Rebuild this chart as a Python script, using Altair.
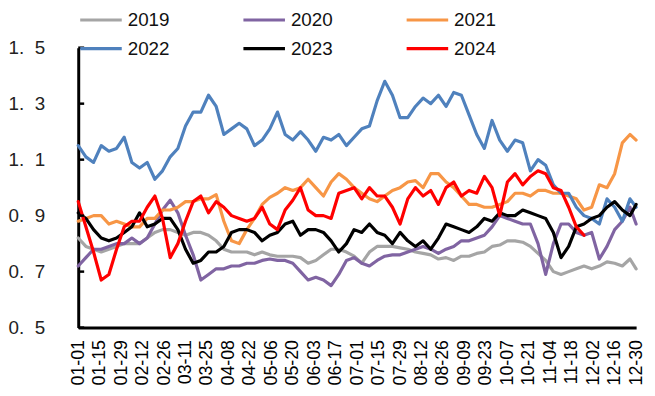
import altair as alt
import pandas as pd

days = [0, 5, 10, 15, 20, 25, 30, 35, 40, 45, 50, 55, 60, 65, 70, 75, 80, 85, 90, 95,
        100, 105, 110, 115, 120, 125, 130, 135, 140, 145, 150, 155, 160, 165, 170, 175,
        180, 185, 190, 195, 200, 205, 210, 215, 220, 225, 230, 235, 240, 245, 250, 255,
        260, 265, 270, 275, 280, 285, 290, 295, 300, 305, 310, 315, 320, 325, 330, 335,
        340, 345, 350, 355, 360, 364]

tick_days = [0, 14, 28, 42, 56, 70, 84, 98, 112, 126, 140, 154, 168, 182, 196, 210,
             224, 238, 252, 266, 280, 294, 308, 322, 336, 350, 364]
y_ticks = [0.5, 0.7, 0.9, 1.1, 1.3, 1.5]

years = ["2019", "2020", "2021", "2022", "2023", "2024"]
colors = ["#A5A5A5", "#8064A2", "#F79646", "#4F81BD", "#000000", "#FF0000"]
widths = [3.2, 3.2, 3.2, 3.3, 3.3, 5.5]

v2019 = [0.82, 0.79, 0.78, 0.77, 0.78, 0.79, 0.80, 0.80, 0.80, 0.82,
         0.84, 0.85, 0.85, 0.84, 0.83, 0.84, 0.84, 0.83, 0.81, 0.78,
         0.77, 0.77, 0.77, 0.76, 0.77, 0.76, 0.755, 0.755, 0.755, 0.75,
         0.73, 0.74, 0.76, 0.78, 0.78, 0.77, 0.755, 0.73, 0.77, 0.79,
         0.79, 0.79, 0.785, 0.78, 0.77, 0.765, 0.76, 0.745, 0.75, 0.74,
         0.755, 0.755, 0.765, 0.77, 0.79, 0.795, 0.81, 0.81, 0.805, 0.79,
         0.765, 0.74, 0.70, 0.69, 0.70, 0.71, 0.72, 0.71, 0.72, 0.735,
         0.73, 0.72, 0.745, 0.71]
v2020 = [0.72, 0.75, 0.78, 0.78, 0.79, 0.80, 0.80, 0.82, 0.80, 0.82,
         0.87, 0.92, 0.955, 0.91, 0.83, 0.76, 0.67, 0.69, 0.71, 0.71,
         0.72, 0.72, 0.73, 0.73, 0.74, 0.745, 0.74, 0.74, 0.73, 0.70,
         0.67, 0.68, 0.67, 0.65, 0.69, 0.74, 0.75, 0.73, 0.72, 0.74,
         0.755, 0.76, 0.76, 0.77, 0.78, 0.79, 0.78, 0.765, 0.78, 0.79,
         0.81, 0.81, 0.82, 0.83, 0.86, 0.90, 0.89, 0.88, 0.87, 0.87,
         0.80, 0.69, 0.80, 0.87, 0.87, 0.84, 0.83, 0.84, 0.745, 0.79,
         0.85, 0.88, 0.93, 0.87]
v2021 = [0.88, 0.89, 0.90, 0.90, 0.87, 0.88, 0.87, 0.86, 0.86, 0.89,
         0.89, 0.92, 0.92, 0.93, 0.95, 0.95, 0.96, 0.96, 0.975, 0.88,
         0.81, 0.80, 0.85, 0.89, 0.94, 0.965, 0.98, 1.00, 0.99, 1.00,
         1.03, 1.00, 0.97, 1.02, 1.05, 1.03, 1.00, 0.98, 0.96, 0.95,
         0.97, 0.99, 1.00, 1.02, 1.025, 1.00, 1.05, 1.05, 1.02, 1.00,
         0.97, 0.94, 0.94, 0.93, 0.93, 0.94, 0.95, 0.98, 0.98, 0.97,
         0.99, 0.99, 0.98, 0.98, 0.97, 0.96, 0.92, 0.93, 1.01, 1.00,
         1.05, 1.16, 1.19, 1.17]
v2022 = [1.15, 1.11, 1.09, 1.15, 1.13, 1.14, 1.18, 1.09, 1.07, 1.09,
         1.03, 1.06, 1.11, 1.14, 1.22, 1.27, 1.27, 1.33, 1.29, 1.19,
         1.21, 1.23, 1.21, 1.15, 1.17, 1.21, 1.27, 1.19, 1.17, 1.20,
         1.17, 1.13, 1.18, 1.17, 1.19, 1.15, 1.18, 1.21, 1.22, 1.31,
         1.38, 1.33, 1.25, 1.25, 1.29, 1.32, 1.30, 1.33, 1.29, 1.34,
         1.33, 1.26, 1.19, 1.14, 1.24, 1.17, 1.13, 1.17, 1.16, 1.06,
         1.10, 1.08, 1.01, 0.98, 0.98, 0.93, 0.90, 0.89, 0.87, 0.96,
         0.93, 0.88, 0.96, 0.93]
v2023 = [0.91, 0.89, 0.85, 0.82, 0.81, 0.82, 0.84, 0.86, 0.91, 0.86,
         0.87, 0.89, 0.89, 0.85, 0.78, 0.73, 0.74, 0.77, 0.77, 0.79,
         0.84, 0.85, 0.85, 0.84, 0.81, 0.83, 0.84, 0.87, 0.88, 0.83,
         0.85, 0.85, 0.84, 0.81, 0.77, 0.80, 0.85, 0.84, 0.87, 0.84,
         0.83, 0.80, 0.84, 0.81, 0.79, 0.81, 0.78, 0.82, 0.87, 0.86,
         0.85, 0.84, 0.86, 0.89, 0.88, 0.91, 0.90, 0.90, 0.92, 0.91,
         0.90, 0.89, 0.84, 0.75, 0.79, 0.86, 0.87, 0.89, 0.90, 0.93,
         0.95, 0.92, 0.90, 0.94]
v2024 = [0.95, 0.86, 0.77, 0.67, 0.69, 0.78, 0.86, 0.88, 0.88, 0.93,
         0.97, 0.89, 0.75, 0.80, 0.88, 0.95, 0.97, 0.91, 0.95, 0.93,
         0.90, 0.89, 0.88, 0.89, 0.93, 0.87, 0.85, 0.92, 0.955, 1.00,
         0.92, 0.90, 0.90, 0.89, 0.98, 0.99, 1.00, 0.96, 1.00, 0.97,
         0.97, 0.93, 0.87, 0.96, 1.00, 0.97, 0.99, 0.94, 1.00, 1.02,
         0.97, 0.99, 0.98, 1.04, 1.00, 0.90, 1.02, 1.05, 1.01, 1.04,
         1.06, 1.05, 1.00, 0.99, 0.93, 0.86, 0.83]

series = [v2019, v2020, v2021, v2022, v2023, v2024]
rows = []
for yr, vals in zip(years, series):
    for d, v in zip(days, vals):
        rows.append({"day": d, "value": v, "year": yr})
df = pd.DataFrame(rows)

FONT = "Liberation Sans"

y_scale = alt.Scale(domain=[0.5, 1.5], nice=False, zero=False)
y_axis = alt.Axis(values=y_ticks,
                  labelExpr="replace(format(datum.value, '.1f'), '.', '.\u00a0\u00a0')",
                  ticks=False, grid=False, domainWidth=3, domainColor="black",
                  title=None, labelFontSize=19, labelColor="#222222",
                  labelFont=FONT, labelPadding=34)

lines = alt.Chart(df).mark_line(strokeJoin="round", strokeCap="round").encode(
    x=alt.X("day:Q",
            scale=alt.Scale(domain=[0, 364], nice=False, zero=False),
            axis=alt.Axis(values=tick_days,
                          labelExpr="timeFormat(datetime(2024, 0, 1 + datum.value), '%m-%d')",
                          labelAngle=-90, ticks=False, grid=False,
                          domainWidth=3, domainColor="black", title=None,
                          labelFontSize=18, labelColor="black", labelFont=FONT,
                          labelPadding=12, labelOverlap=False)),
    y=alt.Y("value:Q", scale=y_scale, axis=y_axis),
    color=alt.Color("year:N",
                    scale=alt.Scale(domain=years, range=colors),
                    legend=alt.Legend(orient="none", legendX=0, legendY=-40,
                                      direction="horizontal", columns=3,
                                      symbolType="stroke", symbolSize=1764,
                                      symbolStrokeWidth=4.5, title=None,
                                      labelFontSize=19, labelFont=FONT,
                                      labelColor="#111111", labelOffset=4,
                                      clipHeight=24,
                                      columnPadding=72, rowPadding=5)),
    strokeWidth=alt.StrokeWidth("year:N",
                                scale=alt.Scale(domain=years, range=widths),
                                legend=None),
)

ticks = alt.Chart(pd.DataFrame({"value": y_ticks})).mark_rule(
    color="black", strokeWidth=2.5
).encode(
    y=alt.Y("value:Q", scale=y_scale, axis=y_axis),
    x=alt.value(0),
    x2=alt.value(6),
)

chart = alt.layer(lines, ticks).properties(
    width=564, height=283,
    autosize=alt.AutoSizeParams(type="none"),
    padding={"left": 71, "top": 38, "right": 11, "bottom": 64},
).configure_view(stroke=None)

chart.save("out.html", embed_options={"renderer": "svg", "actions": False})
